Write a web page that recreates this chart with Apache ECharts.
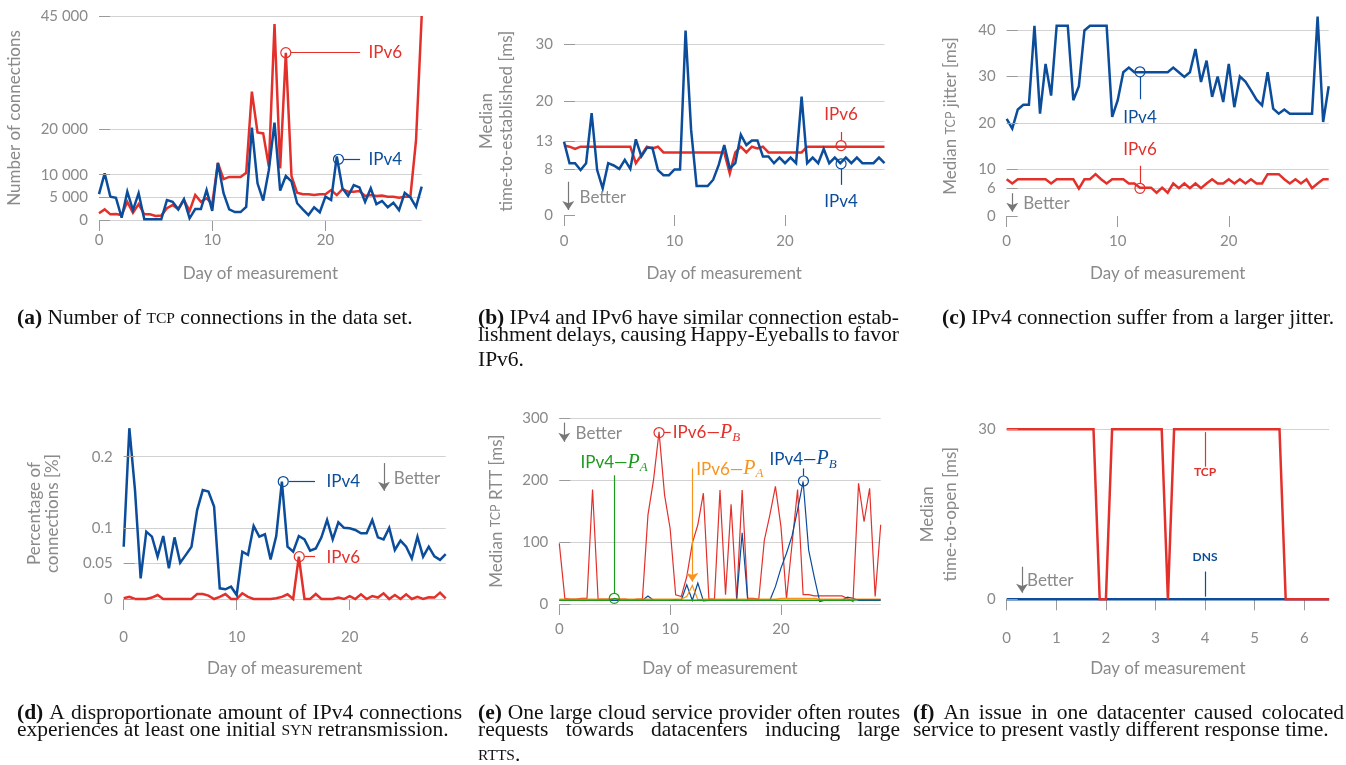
<!DOCTYPE html>
<html><head><meta charset="utf-8">
<script src="https://cdn.jsdelivr.net/npm/echarts@6/dist/echarts.min.js"></script>
<style>html,body{margin:0;padding:0;background:#fff}#c{width:1346px;height:765px}</style>
</head><body><div id="c"></div><script>
// ---------- data ----------
const daysHalf58 = Array.from({length:58},(_,i)=>i*0.5);   // 0 .. 28.5
const daysHalf59 = Array.from({length:59},(_,i)=>i*0.5);   // 0 .. 29
const daysEighth = Array.from({length:53},(_,i)=>i*0.125); // 0 .. 6.5

const dayTicks = [0,10,20];
const dayTicksF = [0,1,2,3,4,5,6];

// (a) Number of connections
const aIPv4 = [5700,10300,5150,4900,500,6250,2200,5900,150,150,150,150,4400,4000,2350,4600,370,2400,2400,6600,2000,12600,5900,2350,1750,1750,2900,20400,8100,4300,11000,21500,6500,9700,8500,3700,2350,1100,2800,1700,5150,4400,14000,7000,5300,7700,7200,4000,7000,3500,4200,2800,3800,2200,6000,5000,2900,7350];
const aIPv6 = [1500,2350,1250,1300,1100,4000,1600,3500,1250,1250,900,1000,2600,3300,2400,4400,2000,5500,4000,4800,3500,12600,9000,9500,9500,9500,10400,28300,19300,19100,11800,43200,11400,36900,9700,6000,5700,5700,5500,5700,5700,6600,5500,6800,6250,6250,6400,5300,5500,5300,5400,5150,5150,4900,5150,5150,17600,45000];
const aTicks = [0,5000,10000,20000,45000];

// (b) Median time-to-established [ms]
const bIPv4 = [12.9,9.1,9.1,7.9,9.1,17.9,7.9,4.7,9.1,8.7,8.1,9.7,8.1,13.3,10.3,11.8,11.8,7.9,7.0,7.0,8.0,8.0,32.4,15,5.1,5.1,5.1,6.2,8.8,12.3,8.2,9.1,14.1,12.3,13.1,13.1,10.3,10.3,9.1,10.1,9.1,10.1,9.1,20.8,9.1,10.1,9.1,11.6,9.1,10.1,9.1,10.1,9.1,10.1,9.1,9.1,9.1,10.1,9.1];
const bIPv6 = [12.2,12.0,11.6,12.0,12,12,12,12,12,12,12,12,12,9.1,10.5,12,11.7,12,11,11,11,11,11,11,11,11,11,11,11,11,7.3,11,12,11,12,11.7,12,11,11,11,11,11,11,11,12,12,12,12,12,12,12,12,12,12,12,12,12,12,12];
const bTicks = [0,8,13,20,30];
const bGrid = [8,13,20,30];

// (c) Median TCP jitter [ms]
const cIPv4 = [20.9,18.8,22.9,23.9,23.9,40.9,22,32.7,25.9,40.9,40.9,40.9,24.9,27.9,39.9,40.9,40.9,40.9,40.9,21.3,24.9,30.9,31.9,30.9,30.9,30.9,30.9,30.9,30.9,30.9,31.9,30.9,29.9,30.9,35.9,28.8,33.4,25.6,30,24.5,32.7,23.4,30,28.9,27,25,23.8,30.9,23.1,22,22.9,22,22,22,22,22,42.9,20.2,27.9];
const cIPv6 = [7.9,7,7.9,7.9,7.9,7.9,7.9,7.9,7,7.9,7.9,7.9,7.9,5.9,7.9,7.9,9,7.9,7,7.9,7.9,7.9,7,7,6.1,6.1,6.1,5,6.1,5,7,6,7,6,7,6,7,7.9,7,7,7.9,7,7.9,7,7.9,7,7,9,9,9,7.9,7,7.9,7,7.9,6,7,7.9,7.9];
const cTicks = [0,6,10,20,30,40];
const cGrid = [6,10,20,30,40];

// (d) Percentage of connections with SYN retransmission [%]
const dIPv4 = [0.0735,0.24,0.153,0.029,0.0946,0.0876,0.0595,0.0885,0.043,0.0866,0.051,0.062,0.0735,0.125,0.153,0.151,0.13,0.015,0.0136,0.0173,0.0056,0.0665,0.062,0.1026,0.0876,0.091,0.0557,0.0885,0.165,0.0735,0.0665,0.0885,0.0838,0.068,0.071,0.0866,0.111,0.0838,0.1077,0.1,0.0993,0.097,0.0923,0.0923,0.111,0.0866,0.0838,0.1,0.0689,0.082,0.0735,0.057,0.0876,0.0595,0.0735,0.06,0.055,0.063];
const dIPv6 = [0.001,0.003,0,0,0,0.002,0.0056,0,0,0,0,0,0,0.007,0.007,0.0047,0,0.003,0.007,0,0,0.008,0.003,0,0,0,0,0.001,0.003,0.0066,0,0.0595,0,0,0.007,0,0,0,0.002,0,0.004,0,0.0066,0,0.004,0.002,0.008,0,0.0056,0,0.0066,0,0.003,0,0.0023,0.002,0.009,0.001];
const dTicks = [0,0.05,0.1,0.2];

// (e) Median TCP RTT [ms]
const eIPv6PB = [98,9,8,8,9,9,185,8,8,8,8,8,8,6,8,8,144,200,278,176,122,15,12,44,98,128,179,8,8,184,15,161,8,184,9,9,8,103,144,190,125,8,97,185,15,15,13,13,13,13,13,13,9,4,195,133,187,12,128];
const eIPv4PB = [6,6,6,6,6,6,6,6,6,6,6,6,6,6,6,6,13,6,6,6,6,7,6,31,6,34,5,6,6,6,6,6,6,115,6,6,6,6,6,28,58,82,110,152,198,87,44,4,6,6,6,6,11,9,6,6,6,6,6];
const eIPv6PA = [8,8,8,8,8,8,8,8,8,8,8,8,8,8,8,8,8,8,8,8,8,8,8,12,30,7,8,8,8,8,8,8,8,8,8,8,8,8,8,8,9,9,9,9,9,9,9,8,8,8,8,8,8,8,8,8,8,8,8];
const eIPv4PA = [6,6,6,6,6,6,6,6,6,6,9,6,6,6,6,6,6,6,6,6,6,6,6,6,6,6,6,6,6,6,6,6,6,6,6,6,6,6,6,6,6,6,6,6,6,6,6,6,6,6,6,6,6,6,7,7,7,7,7];
const eTicks = [0,100,200,300];

// (f) Median time-to-open [ms]
const fTCP = [30,30,30,30,30,30,30,30,30,30,30,30,30,30,30,0,0,30,30,30,30,30,30,30,30,30,0,30,30,30,30,30,30,30,30,30,30,30,30,30,30,30,30,30,30,0,0,0,0,0,0,0,0];
const fDNS = [0,0,0,0,0,0,0,0,0,0,0,0,0,0,0,0,0,0,0,0,0,0,0,0,0,0,0,0,0,0,0,0,0,0,0,0,0,0,0,0,0,0,0,0,0,0,0,0,0,0,0,0,0];
const fTicks = [0,30];

// ---------- styles ----------
const FONT = 'Lato, "Open Sans", sans-serif';
const SERIF = '"Liberation Serif", serif';
const GRAY = '#8a8a8a';
const TICKC = '#9a9a9a';
const GRIDC = '#d2d2d2';
const RED = '#e3302b';
const BLUE = '#0b4d9b';
const GREEN = '#1e9a1e';
const ORANGE = '#f7941d';
const ARROWC = '#777';

const pair = (xs, ys) => xs.map((x,i)=>[x, ys[i]]);
const spaced = v => v === 0 ? '0' : String(v).replace(/\B(?=(\d{3})+(?!\d))/g, ' ');

function xAx(i, max, ticks, offset, margin, gap){
  return {gridIndex:i, type:'value', min:0, max, offset,
    axisLine:{show:false},
    axisTick:{show:true, length:11, customValues:ticks, lineStyle:{color:TICKC, width:1}},
    axisLabel:{customValues:ticks, margin, color:GRAY, fontSize:15, fontFamily:FONT},
    splitLine:{show:false},
    name:'Day of measurement', nameLocation:'middle', nameGap:gap,
    nameTextStyle:{color:GRAY, fontSize:17, fontFamily:FONT}};
}
function yAx(i, max, ticks, name, gap, lh, fmt){
  return {gridIndex:i, type:'value', min:0, max, z:3,
    axisLine:{show:false},
    axisTick:{show:true, inside:true, length:11, customValues:ticks, lineStyle:{color:TICKC, width:1}},
    axisLabel:{customValues:ticks, margin:11, color:GRAY, fontSize:15, fontFamily:FONT, formatter:fmt},
    splitLine:{show:false},
    name, nameLocation:'middle', nameGap:gap, nameMoveOverlap:false,
    nameTextStyle:{color:GRAY, fontSize:17, fontFamily:FONT, lineHeight:lh, rich:{sc:{fontSize:12.5, color:GRAY, fontFamily:FONT}}}};
}
function lineS(i, data, color, width, extra){
  return Object.assign({type:'line', xAxisIndex:i, yAxisIndex:i, data, symbol:'none', showSymbol:false,
    clip:false, silent:true, animation:false, z:2,
    lineStyle:{color, width, join:'miter', miterLimit:4}, itemStyle:{color}}, extra||{});
}
function gridML(vals){
  return {silent:true, animation:false, z:1, symbol:['none','none'], label:{show:false},
    lineStyle:{color:GRIDC, width:1, type:'solid'}, emphasis:{disabled:true},
    data: vals.map(v=>({yAxis:v}))};
}
function seg(a, b, color, arrow){
  const ls = {color, width:1.2, type:'solid'};
  return [{coord:a, symbol:'none', lineStyle:ls}, {coord:b, symbol: arrow ? 'arrow' : 'none', symbolSize: arrow ? 9 : 0, lineStyle:ls}];
}
function annML(items){
  return {silent:true, animation:false, z:6, label:{show:false}, emphasis:{disabled:true}, data:items};
}
const circ = (c, color) => ({coord:c, symbol:'circle', symbolSize:10,
  itemStyle:{color:'rgba(255,255,255,0)', borderColor:color, borderWidth:1.2}, label:{show:false}});
const txt = (c, text, color, pos, extra) => ({coord:c, symbol:'circle', symbolSize:1,
  itemStyle:{color:'rgba(0,0,0,0)'},
  label:Object.assign({show:true, formatter:text, position:pos||'inside', distance:0, color, fontSize:17, fontFamily:FONT}, extra||{})});
function annMP(items){ return {silent:true, animation:false, z:7, data:items}; }

function pLabel(prefix, sub, color){
  return {formatter:'{t|'+prefix+'\u2014}{p|P}{s|'+sub+'}',
    rich:{t:{color, fontSize:17, fontFamily:FONT},
          p:{color, fontSize:20, fontStyle:'italic', fontFamily:SERIF},
          s:{color, fontSize:13, fontStyle:'italic', fontFamily:SERIF, padding:[10,0,0,0]}}};
}

// ---------- panels ----------
const grids = [
  {left:99,    top:16,    width:322.7, height:204},
  {left:564,   top:27.2,  width:320.5, height:187.8},
  {left:1006.7,top:16,    width:322,   height:200},
  {left:123.7, top:428.2, width:322,   height:170.8},
  {left:559.3, top:418.3, width:321.4, height:185.7},
  {left:1006.7,top:429.3, width:322.4, height:170}
];

const xAxes = [
  xAx(0, 28.5, dayTicks, 0, 13, 45),
  xAx(1, 29, dayTicks, 0, 19, 50),
  xAx(2, 29, dayTicks, 0, 18, 49),
  xAx(3, 28.5, dayTicks, 11, 20, 50),
  xAx(4, 29, dayTicks, 9, 9, 47),
  xAx(5, 6.5, dayTicksF, 13, 18, 48)
];
const yAxes = [
  yAx(0, 45000, aTicks, 'Number of connections', 74, 20, spaced),
  yAx(1, 33, bTicks, 'Median\ntime-to-established [ms]', 47, 20),
  yAx(2, 43, cTicks, 'Median {sc|TCP} jitter [ms]', 46, 20),
  yAx(3, 0.24, dTicks, 'Percentage of\nconnections [%]', 62, 18),
  yAx(4, 300, eTicks, 'Median {sc|TCP} RTT [ms]', 53, 20),
  yAx(5, 30, fTicks, 'Median\ntime-to-open [ms]', 45, 23)
];

const BETTER = (c) => txt(c, 'Better', GRAY, 'right');

const series = [
  // (a)
  lineS(0, pair(daysHalf58, aIPv6), RED, 2.5, {markLine:gridML(aTicks)}),
  lineS(0, pair(daysHalf58, aIPv4), BLUE, 2.5, {
    markLine:annML([seg([16.95,36900],[23.06,36900],RED), seg([21.6,13400],[23.06,13400],BLUE)]),
    markPoint:annMP([circ([16.5,36900],RED), circ([21.15,13400],BLUE),
      txt([23.76,36900],'IPv6',RED,'right'), txt([23.76,13400],'IPv4',BLUE,'right')])}),
  // (b)
  lineS(1, pair(daysHalf59, bIPv6), RED, 2.5, {markLine:gridML(bGrid)}),
  lineS(1, pair(daysHalf59, bIPv4), BLUE, 2.5, {
    markLine:annML([seg([25.07,13.1],[25.07,14.6],RED), seg([25.07,8.1],[25.07,5.3],BLUE),
      seg([0.39,5.85],[0.39,0.88],ARROWC,true)]),
    markPoint:annMP([circ([25.07,12.2],RED), circ([25.07,9.0],BLUE),
      txt([25.07,17.6],'IPv6',RED), txt([25.07,2.3],'IPv4',BLUE), BETTER([1.36,3.05])])}),
  // (c)
  lineS(2, pair(daysHalf59, cIPv6), RED, 2.5, {markLine:gridML(cGrid)}),
  lineS(2, pair(daysHalf59, cIPv4), BLUE, 2.5, {
    markLine:annML([seg([12,29.9],[12,25.1],BLUE), seg([12,7.0],[12,10.8],RED),
      seg([0.5,4.9],[0.5,0.93],ARROWC,true)]),
    markPoint:annMP([circ([12,31.0],BLUE), circ([12,5.95],RED),
      txt([12,21.2],'IPv4',BLUE), txt([12,14.2],'IPv6',RED), BETTER([1.44,2.7])])}),
  // (d)
  lineS(3, pair(daysHalf58, dIPv6), RED, 2.5, {markLine:gridML(dTicks)}),
  lineS(3, pair(daysHalf58, dIPv4), BLUE, 2.5, {
    markLine:annML([seg([14.6,0.165],[16.93,0.165],BLUE), seg([16.0,0.0595],[16.93,0.0595],RED),
      seg([23.04,0.191],[23.04,0.152],ARROWC,true)]),
    markPoint:annMP([circ([14.12,0.165],BLUE), circ([15.54,0.0595],RED),
      txt([17.9,0.165],'IPv4',BLUE,'right'), txt([17.9,0.058],'IPv6',RED,'right'), BETTER([23.86,0.169])])}),
  // (e)
  lineS(4, pair(daysHalf59, eIPv6PB), RED, 1.2, {markLine:gridML(eTicks)}),
  lineS(4, pair(daysHalf59, eIPv4PB), BLUE, 1.2),
  lineS(4, pair(daysHalf59, eIPv6PA), ORANGE, 1.2),
  lineS(4, pair(daysHalf59, eIPv4PA), GREEN, 1.4, {
    markLine:annML([seg([9.45,277],[10.05,277],RED), seg([4.96,17],[4.96,208],GREEN),
      seg([12,219],[12,36],ORANGE,true), seg([22.03,207],[22.03,219],BLUE),
      seg([0.45,293],[0.45,262],ARROWC,true)]),
    markPoint:annMP([circ([9,277],RED), circ([4.96,9.2],GREEN), circ([22.03,198.7],BLUE),
      txt([10.2,277],'',RED,'right',pLabel('IPv6','B',RED)),
      txt([4.94,228],'',GREEN,'inside',pLabel('IPv4','A',GREEN)),
      txt([12.31,218],'',ORANGE,'right',pLabel('IPv6','A',ORANGE)),
      txt([22.0,234],'',BLUE,'inside',pLabel('IPv4','B',BLUE)),
      BETTER([1.42,275.7])])}),
  // (f)
  lineS(5, pair(daysEighth, fDNS), BLUE, 2.5, {markLine:gridML(fTicks)}),
  lineS(5, pair(daysEighth, fTCP), RED, 2.5, {
    markLine:annML([seg([4,29.5],[4,23.4],RED), seg([4,4.9],[4,0.46],BLUE),
      seg([0.31,5.75],[0.31,1.17],ARROWC,true)]),
    markPoint:annMP([txt([4,22.5],'TCP',RED,'inside',{fontSize:12,fontWeight:'bold'}),
      txt([4,7.4],'DNS',BLUE,'inside',{fontSize:12,fontWeight:'bold'}), BETTER([0.40,3.23])])})
];

// ---------- captions ----------
const CAPFS = 21.5;
const CAPR = {b:{fontWeight:'bold', fontSize:CAPFS, fontFamily:SERIF, fill:'#111'},
              sc:{fontSize:15.5, fontFamily:SERIF, fill:'#111', verticalAlign:'bottom', padding:[0,0,2,0]}};
const mctx = document.createElement('canvas').getContext('2d');
const isTag = w => /^\([a-f]\)$/.test(w);
function wWidth(w){ mctx.font = (isTag(w) ? 'bold ' : '') + CAPFS + 'px "Liberation Serif"'; return mctx.measureText(w).width; }
// lay out a full-width (justified) caption line word by word
function justified(x0, x1, y, line){
  const words = line.split(' ');
  const ws = words.map(wWidth);
  const gap = (x1 - x0 - ws.reduce((a,b)=>a+b,0)) / (words.length - 1);
  let x = x0; const out = [];
  words.forEach((w,i)=>{ out.push([x, y, isTag(w) ? '{b|'+w+'}' : w]); x += ws[i] + gap; });
  return out;
}
const captions = [].concat(
  [[17, 318, '{b|(a)} Number of {sc|TCP} connections in the data set.']],
  justified(478, 899, 318, '(b) IPv4 and IPv6 have similar connection estab-'),
  justified(478, 899, 335, 'lishment delays, causing Happy-Eyeballs to favor'),
  [[478, 360, 'IPv6.']],
  [[942, 318, '{b|(c)} IPv4 connection suffer from a larger jitter.']],
  justified(17, 462, 713, '(d) A disproportionate amount of IPv4 connections'),
  [[17, 730, 'experiences at least one initial {sc|SYN} retransmission.']],
  justified(478, 900, 713, '(e) One large cloud service provider often routes'),
  justified(478, 900, 730, 'requests towards datacenters inducing large'),
  [[478, 755, '{sc|RTTS}.']],
  justified(913, 1344, 713, '(f) An issue in one datacenter caused colocated'),
  [[913, 730, 'service to present vastly different response time.']]
);
const graphic = captions.map(([x,y,t]) => ({type:'text', x, y, silent:true,
  style:{text:t, fill:'#111', fontSize:CAPFS, fontFamily:SERIF, verticalAlign:'middle', align:'left', rich:CAPR}}));

const chart = echarts.init(document.getElementById('c'), null, {renderer:'canvas'});
chart.setOption({
  animation:false,
  backgroundColor:'#fff',
  textStyle:{fontFamily:FONT},
  grid: grids.map(g => Object.assign({outerBoundsMode:'none', containLabel:false}, g)),
  xAxis: xAxes, yAxis: yAxes, series, graphic
});
</script></body></html>
